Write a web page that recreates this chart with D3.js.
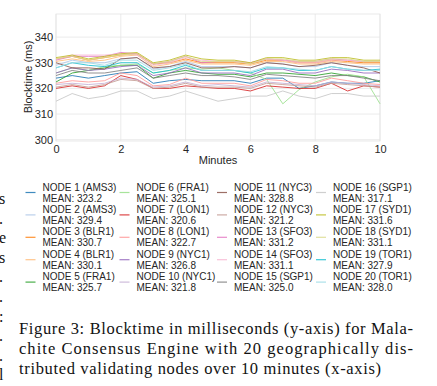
<!DOCTYPE html>
<html>
<head>
<meta charset="utf-8">
<script src="https://cdn.jsdelivr.net/npm/d3@7"></script>
<style>
  body { margin: 0; background: #ffffff; }
  text { font-family: "Liberation Sans", Arial, sans-serif; }
  .caption { font-family: "Liberation Serif", "DejaVu Serif", serif; }
</style>
</head>
<body>
<div id="vis"></div>
<script>
// minute marks (one sample every 30 s)
const MINUTES = [0, 0.5, 1, 1.5, 2, 2.5, 3, 3.5, 4, 4.5, 5, 5.5, 6, 6.5, 7, 7.5, 8, 8.5, 9, 9.5, 10];

// node names and the means printed in the legend
const NODES = ["AMS3", "AMS3", "BLR1", "BLR1", "FRA1", "FRA1", "LON1", "LON1", "NYC1", "NYC1",
               "NYC3", "NYC3", "SFO3", "SFO3", "SGP1", "SGP1", "SYD1", "SYD1", "TOR1", "TOR1"];
const MEANS = [323.2, 329.4, 330.7, 330.1, 325.7, 325.1, 320.6, 322.7, 326.8, 321.8,
               328.8, 321.2, 331.2, 331.1, 325.0, 317.1, 331.6, 331.1, 327.9, 328.0];

// blocktime (ms) per node
const NODE_1  = [324, 325, 324, 325, 326, 326.5, 322, 323, 323.5, 323, 323, 323, 322, 324, 324, 320, 321, 322.5, 322, 322, 323];
const NODE_2  = [329, 331, 330, 330, 331.5, 332, 327.5, 328.5, 330.5, 328.5, 328.5, 328.5, 328, 330, 329.5, 328.5, 328.5, 330, 329, 328.5, 328.5];
const NODE_3  = [331.5, 332.5, 331, 332, 333, 333.5, 329.5, 330, 331.5, 330, 330, 330, 329.5, 331, 331, 330, 330, 331, 330.5, 330, 330];
const NODE_4  = [330.5, 331.5, 330.5, 331, 332.5, 333, 328.5, 329.5, 331, 329.5, 329.5, 329.5, 329, 330.5, 330.5, 329.5, 329.5, 330.5, 330, 329.5, 329.5];
const NODE_5  = [322.5, 326, 327, 328, 329, 329, 324, 326, 327, 326, 325.5, 325.5, 324.5, 326, 326, 325.5, 325, 326, 325, 324.5, 322.5];
const NODE_6  = [326, 328, 327, 328.5, 329, 329.5, 326, 327, 328, 327.5, 328, 327, 326, 323.5, 314, 319.5, 322.5, 324.5, 325.5, 324.5, 314];
const NODE_7  = [320, 321, 320, 321, 325, 323.5, 320, 320, 321, 320.5, 320, 320, 319, 321, 320.5, 320, 320, 322, 319, 321, 320.5];
const NODE_8  = [322, 323, 322.5, 323, 326, 325, 321, 321.5, 324, 322, 322, 322, 321, 323.5, 323, 322, 322, 324, 323, 322, 321.5];
const NODE_9  = [326, 328, 327, 327.5, 328.5, 329, 325, 326, 328, 326, 326, 326, 325, 327.5, 327.5, 326, 326, 327.5, 327, 326, 326];
const NODE_10 = [321.5, 322, 321.5, 322, 324, 323.5, 320.5, 321, 322.5, 321, 321.5, 321, 320.5, 322.5, 322, 321.5, 321, 322.5, 322, 321.5, 321];
const NODE_11 = [330, 328, 328, 327.5, 331.5, 332, 328, 328.5, 330, 328, 328, 328.5, 328, 330, 329.5, 328.5, 329, 330, 329, 328, 326];
const NODE_12 = [320.5, 321.5, 320.5, 321.5, 323.5, 323, 320, 320.5, 322, 320.5, 320.5, 320.5, 320, 322, 321.5, 321, 320.5, 322, 321.5, 321, 320.5];
const NODE_13 = [331, 332.5, 332.5, 332.5, 334, 333.5, 329.5, 330.5, 332.5, 330, 330.5, 330.5, 330, 331.5, 331, 330.5, 330.5, 331.5, 331, 330.5, 330.5];
const NODE_14 = [331.5, 333, 333, 333, 333.5, 333, 329, 330, 332, 331, 330.5, 330.5, 330, 331.5, 331, 330, 330, 331, 331, 330.5, 330.5];
const NODE_15 = [325, 327, 326, 326, 327, 328, 324, 325, 326, 325, 325, 324.5, 323.5, 325.5, 325, 324.5, 324, 325, 325, 324, 323];
const NODE_16 = [315, 318, 316, 317, 319, 319, 316, 317, 319, 317, 315, 316, 317, 317, 319, 317, 316, 318, 318, 317, 317];
const NODE_17 = [332, 333, 331.5, 332.5, 333.5, 334, 330, 331, 333, 331.5, 331, 331, 330, 332, 332, 331, 331, 332, 332, 331, 331];
const NODE_18 = [331.5, 332.5, 331, 332, 333, 333.5, 329.5, 330.5, 332.5, 330.5, 330.5, 330.5, 329.5, 331.5, 331.5, 330.5, 330.5, 331.5, 331.5, 330.5, 330.5];
const NODE_19 = [328, 330, 329, 328.5, 330, 330, 326, 327, 329, 327, 327, 327, 326, 328, 328, 327, 327, 328.5, 327.5, 327, 327.5];
const NODE_20 = [328, 330, 330, 329, 331, 331, 327, 328, 329.5, 327, 327, 327, 326.5, 328.5, 328, 327.5, 327, 328.5, 327.5, 327, 327];

const SERIES = [NODE_1, NODE_2, NODE_3, NODE_4, NODE_5, NODE_6, NODE_7, NODE_8, NODE_9, NODE_10,
                NODE_11, NODE_12, NODE_13, NODE_14, NODE_15, NODE_16, NODE_17, NODE_18, NODE_19, NODE_20];

const X_TICKS = [0, 2, 4, 6, 8, 10];
const Y_TICKS = [300, 310, 320, 330, 340];

const CAPTION = ["Figure 3: Blocktime in milliseconds (y-axis) for Mala-",
                 "chite Consensus Engine with 20 geographically dis-",
                 "tributed validating nodes over 10 minutes (x-axis)"];

// bits of the neighbouring column cut off at the left edge
const EDGE_BITS = ["s", ".", "e", "s", ".", ".", ":", ".", ".", "l"];

// frame constants
const FRAME_WIDTH = 437;
const FRAME_HEIGHT = 386;
const PLOT = {left: 56, right: 380, top: 14, bottom: 141};

const FRAME = d3.select("#vis")
  .append("svg")
  .attr("width", FRAME_WIDTH)
  .attr("height", FRAME_HEIGHT);

FRAME.append("rect")
  .attr("width", FRAME_WIDTH)
  .attr("height", FRAME_HEIGHT)
  .attr("fill", "#ffffff");

// scales
const X_SCALE = d3.scaleLinear().domain([0, 10]).range([PLOT.left, PLOT.right]);
const Y_SCALE = d3.scaleLinear().domain([299.5, 349]).range([PLOT.bottom, PLOT.top]);

const COLOR = d3.scaleOrdinal().domain(d3.range(20)).range(d3.schemeTableau10.length ? [
  "#1f77b4", "#aec7e8", "#ff7f0e", "#ffbb78", "#2ca02c", "#98df8a", "#d62728", "#ff9896",
  "#9467bd", "#c5b0d5", "#8c564b", "#c49c94", "#e377c2", "#f7b6d2", "#7f7f7f", "#c7c7c7",
  "#bcbd22", "#dbdb8d", "#17becf", "#9edae5"] : []);

// grid lines
FRAME.append("g")
  .selectAll("line")
  .data(X_TICKS)
  .enter()
  .append("line")
  .attr("x1", (d) => X_SCALE(d))
  .attr("x2", (d) => X_SCALE(d))
  .attr("y1", PLOT.top)
  .attr("y2", PLOT.bottom)
  .attr("stroke", "#e6e6e6")
  .attr("stroke-width", 0.8);

FRAME.append("g")
  .selectAll("line")
  .data(Y_TICKS)
  .enter()
  .append("line")
  .attr("x1", PLOT.left)
  .attr("x2", PLOT.right)
  .attr("y1", (d) => Y_SCALE(d))
  .attr("y2", (d) => Y_SCALE(d))
  .attr("stroke", "#e6e6e6")
  .attr("stroke-width", 0.8);

// light frame round the plot
FRAME.append("rect")
  .attr("x", PLOT.left)
  .attr("y", PLOT.top)
  .attr("width", PLOT.right - PLOT.left)
  .attr("height", PLOT.bottom - PLOT.top)
  .attr("fill", "none")
  .attr("stroke", "#e3e3e3")
  .attr("stroke-width", 0.8);

// axes, labels only
const X_AXIS = FRAME.append("g")
  .attr("transform", "translate(0," + PLOT.bottom + ")")
  .call(d3.axisBottom(X_SCALE).tickValues(X_TICKS).tickSize(0).tickPadding(4));
const Y_AXIS = FRAME.append("g")
  .attr("transform", "translate(" + PLOT.left + ",0)")
  .call(d3.axisLeft(Y_SCALE).tickValues(Y_TICKS).tickSize(0).tickPadding(3));
[X_AXIS, Y_AXIS].forEach((ax) => {
  ax.select(".domain").remove();
  ax.selectAll("text")
    .attr("font-size", "11px")
    .attr("fill", "#262626")
    .style("font-family", "'Liberation Sans', Arial, sans-serif");
});

FRAME.append("text")
  .attr("x", (PLOT.left + PLOT.right) / 2)
  .attr("y", 164)
  .attr("text-anchor", "middle")
  .attr("font-size", "11px")
  .attr("fill", "#262626")
  .text("Minutes");

FRAME.append("text")
  .attr("transform", "translate(32,77) rotate(-90)")
  .attr("text-anchor", "middle")
  .attr("font-size", "11px")
  .attr("fill", "#262626")
  .text("Blocktime (ms)");

// one line per node
const LINE = d3.line()
  .x((d, i) => X_SCALE(MINUTES[i]))
  .y((d) => Y_SCALE(d));

FRAME.append("g")
  .selectAll("path")
  .data(SERIES)
  .enter()
  .append("path")
  .attr("d", (d) => LINE(d))
  .attr("fill", "none")
  .attr("stroke", (d, i) => COLOR(i))
  .attr("stroke-width", 1)
  .attr("stroke-opacity", 0.85);

// legend, five rows per column
const LEGEND_X = [42.5, 136.5, 234, 333];
const ENTRY = FRAME.append("g")
  .selectAll("g")
  .data(NODES)
  .enter()
  .append("g")
  .attr("transform", (d, i) => "translate(" + LEGEND_X[Math.floor(i / 5)] + "," + (190.5 + (i % 5) * 22.4) + ")");

ENTRY.append("line")
  .attr("x1", -17)
  .attr("x2", -7)
  .attr("y1", 2)
  .attr("y2", 2)
  .attr("stroke", (d, i) => COLOR(i))
  .attr("stroke-width", 1.2)
  .attr("stroke-opacity", 0.85);

ENTRY.append("text")
  .attr("font-size", "10px")
  .attr("fill", "#262626")
  .text((d, i) => "NODE " + (i + 1) + " (" + d + ")");

ENTRY.append("text")
  .attr("y", 11)
  .attr("font-size", "10px")
  .attr("fill", "#262626")
  .text((d, i) => "MEAN: " + MEANS[i].toFixed(1));

// caption under the figure
FRAME.append("g")
  .selectAll("text")
  .data(CAPTION)
  .enter()
  .append("text")
  .attr("class", "caption")
  .attr("x", 19)
  .attr("y", (d, i) => 334 + i * 20)
  .attr("font-size", "16.5px")
  .attr("fill", "#111111")
  .attr("textLength", (d, i) => i < 2 ? 394 : 362)
  .attr("lengthAdjust", "spacing")
  .text((d) => d);

FRAME.append("g")
  .selectAll("text")
  .data(EDGE_BITS)
  .enter()
  .append("text")
  .attr("class", "caption")
  .attr("x", -1)
  .attr("y", (d, i) => 204 + i * 19.6)
  .attr("font-size", "16px")
  .attr("fill", "#111111")
  .text((d) => d);
</script>
</body>
</html>
